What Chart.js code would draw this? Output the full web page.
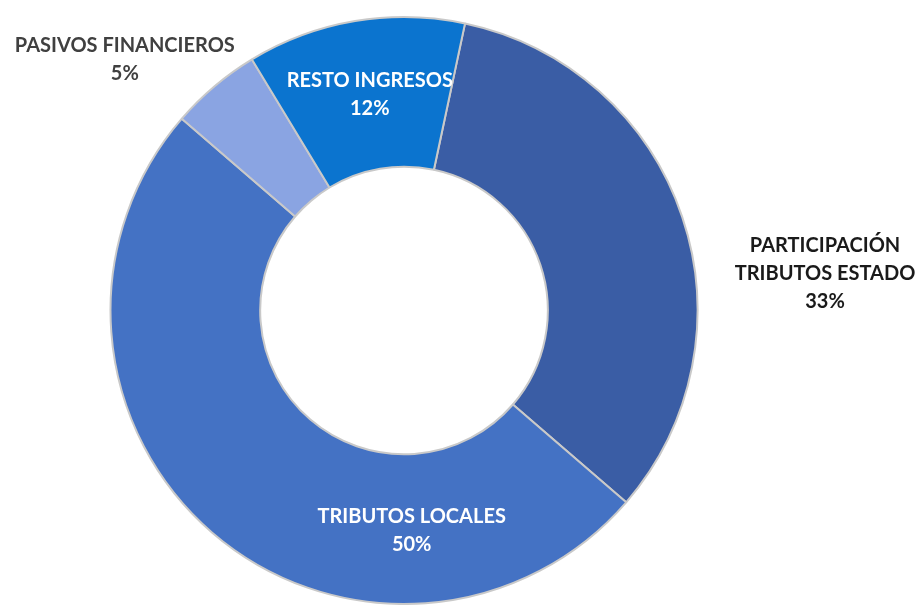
<!DOCTYPE html>
<html><head><meta charset="utf-8">
<script src="https://cdn.jsdelivr.net/npm/chart.js@4"></script>
<style>html,body{margin:0;padding:0;background:#fff}#wrap{width:922px;height:605px}</style>
</head><body><div id="wrap"><canvas id="c" width="922" height="605"></canvas></div>
<script>
const categories = ["PARTICIPACIÓN\nTRIBUTOS ESTADO", "TRIBUTOS LOCALES", "PASIVOS FINANCIEROS", "RESTO INGRESOS"];
const values = [33, 50, 5, 12];
const percentLabels = ["33%", "50%", "5%", "12%"];
const colors = ["#3A5DA5", "#4472C4", "#8AA4E2", "#0B74CF"];
// label placement: angle (deg from top, clockwise) and radius as fraction of outer radius
const labelLayout = [
  {a: 85, r: 1.44, color: "#1a1a1a"},
  {a: 178, r: 0.75, color: "#ffffff"},
  {a: -48, r: 1.28, color: "#404040"},
  {a: -9, r: 0.745, color: "#ffffff"}
];
const labelPlugin = {
  id: 'lbl',
  afterDatasetsDraw(chart) {
    const ctx = chart.ctx;
    const meta = chart.getDatasetMeta(0);
    const arc0 = meta.data[0];
    const cx = arc0.x, cy = arc0.y, R = arc0.outerRadius;
    ctx.save();
    ctx.font = "bold 20px Lato, 'Open Sans', sans-serif";
    ctx.textAlign = "center";
    ctx.textBaseline = "middle";
    categories.forEach((c, i) => {
      const L = labelLayout[i];
      const ang = L.a * Math.PI / 180;
      const x = cx + Math.sin(ang) * R * L.r;
      const y = cy - Math.cos(ang) * R * L.r;
      const lines = c.split("\n").concat([percentLabels[i]]);
      const lh = 28;
      const y0 = y - (lines.length - 1) * lh / 2;
      ctx.fillStyle = L.color;
      lines.forEach((t, k) => ctx.fillText(t, x, y0 + k * lh));
    });
    ctx.restore();
  }
};
new Chart(document.getElementById('c'), {
  type: 'doughnut',
  data: {
    labels: categories,
    datasets: [{
      data: values,
      backgroundColor: colors,
      borderColor: "#c9c9c9",
      borderWidth: 2
    }]
  },
  options: {
    responsive: false,
    animation: false,
    rotation: 12,
    cutout: '49%',
    layout: {padding: {top: 16, bottom: 0, left: 0, right: 114}},
    plugins: {legend: {display: false}, tooltip: {enabled: false}}
  },
  plugins: [labelPlugin]
});
</script>
</body></html>
